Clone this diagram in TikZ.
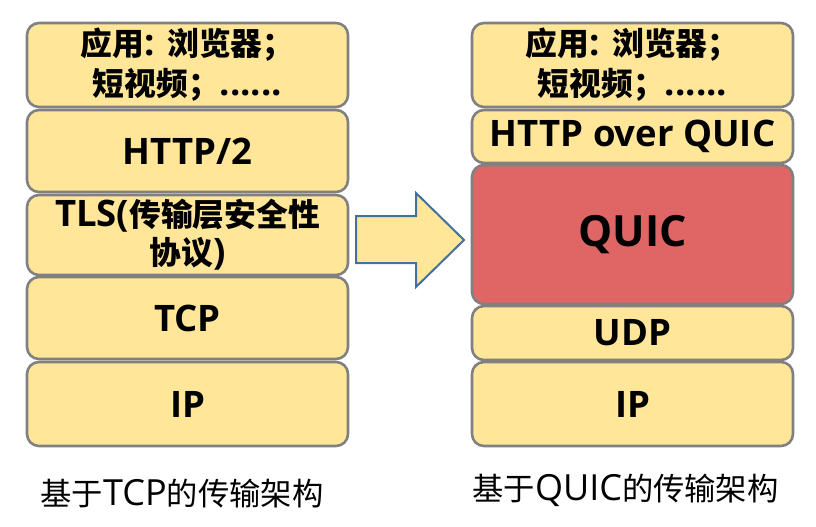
\documentclass[tikz,border=0pt]{standalone}
\usepackage{fontspec}
\setmainfont{Open Sans}
\newfontfamily\cjk{Noto Sans CJK SC}[Scale=0.87]
\definecolor{boxfill}{HTML}{FFE699}
\definecolor{boxline}{HTML}{808080}
\definecolor{quicfill}{HTML}{E06666}
\definecolor{arrline}{HTML}{41719C}
\tikzset{
  layer/.style={draw=boxline, line width=2.6pt, fill=boxfill, rounded corners=12pt,
    minimum width=321pt, align=center, inner sep=0pt,
    font=\bfseries\fontsize{36.5}{40}\selectfont},
  caption/.style={font=\fontsize{36}{40}\selectfont, inner sep=0pt}
}
\begin{document}
\begin{tikzpicture}[x=1pt,y=-1pt]
\useasboundingbox (0,0) rectangle (816,527);
% left stack
\node[layer, minimum height=84pt] (l1) at (187.5,65) {{\cjk 应用}: {\cjk 浏览器；}\\{\cjk 短视频；}......};
\node[layer, minimum height=82pt] (l2) at (187.5,151) {HTTP/2};
\node[layer, minimum height=80pt, font=\bfseries\fontsize{36.5}{38}\selectfont] (l3) at (187.5,235) {TLS({\cjk 传输层安全性}\\{\cjk 协议})};
\node[layer, minimum height=82pt] (l4) at (187.5,318) {TCP};
\node[layer, minimum height=84pt] (l5) at (187.5,404) {IP};
% right stack
\node[layer, minimum height=84pt] (r1) at (632.5,65) {{\cjk 应用}: {\cjk 浏览器；}\\{\cjk 短视频；}......};
\node[layer, minimum height=53pt] (r2) at (632.5,136.5) {HTTP over QUIC};
\node[layer, minimum height=139pt, fill=quicfill, font=\bfseries\fontsize{43}{48}\selectfont] (r3) at (632.5,234.5) {QUIC};
\node[layer, minimum height=54pt] (r4) at (632.5,333) {UDP};
\node[layer, minimum height=84pt] (r5) at (632.5,404) {IP};
% block arrow
\coordinate (atip) at (464,240);
\draw[draw=arrline, line width=2pt, fill=boxfill, line join=miter]
  (356,216) -- (416,216) -- (416,193) -- (atip) -- (416,287) -- (416,263) -- (356,263) -- cycle;
% captions
\node[caption] (c1) at (182,494) {{\cjk 基于}TCP{\cjk 的传输架构}};
\node[caption] (c2) at (625.5,490) {{\cjk 基于}QUIC{\cjk 的传输架构}};
\end{tikzpicture}
\end{document}
